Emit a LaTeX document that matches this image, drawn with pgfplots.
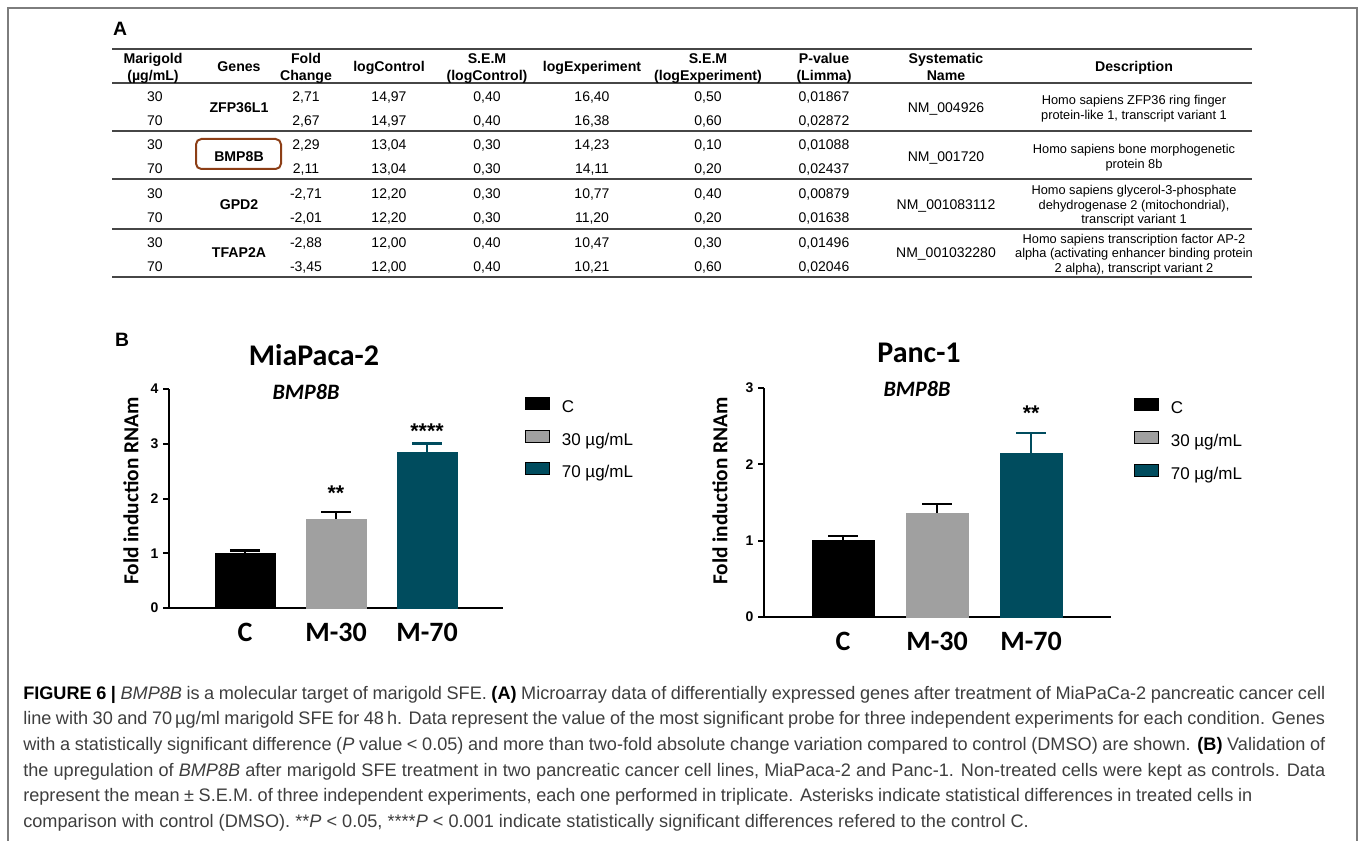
\documentclass[border=0pt]{standalone}
\usepackage{fontspec}
\setmainfont{Liberation Sans}
\newfontfamily\carl{Carlito}
\usepackage{pgfplots}
\pgfplotsset{compat=1.18}
\definecolor{tealC}{RGB}{0,76,94}
\definecolor{grayC}{RGB}{160,160,160}
\definecolor{brownC}{RGB}{140,62,22}
\definecolor{capC}{RGB}{62,62,62}
\definecolor{frameC}{RGB}{125,125,125}
\definecolor{ruleC}{RGB}{70,70,70}
\newcommand{\hfnt}{\fontsize{10.6}{10.6}\selectfont\bfseries}
\newcommand{\vfnt}{\fontsize{10.5}{10.5}\selectfont}
\newcommand{\dfnt}{\fontsize{9.6}{9.6}\selectfont}
\newcommand{\cfnt}{\fontsize{13.6}{13.6}\selectfont\color{capC}}
\newcommand{\hd}[3]{\node[anchor=base,inner sep=0pt,font=\hfnt] at (#1,-#2) {#3};}
\newcommand{\vl}[3]{\node[anchor=base,inner sep=0pt,font=\vfnt] at (#1,-#2) {#3};}
\newcommand{\ds}[3]{\node[anchor=base,inner sep=0pt,font=\dfnt] at (#1,-#2) {#3};}
\newcommand{\trow}[8]{\vl{155}{#1}{#2}\vl{306}{#1}{#3}\vl{389}{#1}{#4}\vl{487}{#1}{#5}\vl{592}{#1}{#6}\vl{708}{#1}{#7}\vl{824}{#1}{#8}}
\newcommand{\capline}[2]{\node[anchor=base west,inner sep=0pt,font=\cfnt] at (23,-#1) {#2};}
\newcommand{\astfont}{\fontsize{16}{16}\selectfont\bfseries}
\pgfplotsset{
  bmpaxis/.style={
    scale only axis, clip=false,
    axis lines*=left, axis line style={line width=2pt, black},
    xtick={0,1,2}, xticklabels={C,M-30,M-70},
    tick align=outside, major tick length=4.5pt,
    x tick style={draw=none},
    y tick style={line width=1.5pt, black},
    /pgf/number format/assume math mode=true,
    y tick label style={font=\fontsize{10.5}{10.5}\selectfont\bfseries},
    x tick label style={font=\carl\bfseries\fontsize{21}{21}\selectfont, anchor=base, yshift=-20.5pt},
    legend image code/.code={\fill[##1] (0pt,0pt) rectangle (18pt,9pt);},
    legend cell align=left,
  },
  bmpbar/.style={ybar, bar width=0.66, bar shift=0pt, fill=#1, draw=#1, line width=0.4pt, forget plot},
}
\begin{document}
\begin{tikzpicture}[x=0.75pt,y=0.75pt]
\path[use as bounding box] (0,0) rectangle (1360,-841);
\draw[frameC, line width=1.1pt] (8,-841) -- (8,-8) -- (1357,-8) -- (1357,-841);
% ---------- Panel A ----------
\node[anchor=base,inner sep=0pt,font=\fontsize{14.5}{14.5}\selectfont\bfseries] at (120,-36) {A};
\draw[ruleC, line width=1pt] (112,-49) -- (1252,-49);
\draw[ruleC, line width=1pt] (112,-83) -- (1252,-83);
\draw[ruleC, line width=1pt] (112,-131) -- (1252,-131);
\draw[ruleC, line width=1pt] (112,-179) -- (1252,-179);
\draw[ruleC, line width=1pt] (112,-229) -- (1252,-229);
\draw[ruleC, line width=1pt] (112,-277) -- (1252,-277);
\hd{153}{64}{Marigold}\hd{153}{81}{(µg/mL)}
\hd{239}{72}{Genes}
\hd{306}{64}{Fold}\hd{306}{81}{Change}
\hd{389}{72}{logControl}
\hd{487}{64}{S.E.M}\hd{487}{81}{(logControl)}
\hd{592}{72}{logExperiment}
\hd{708}{64}{S.E.M}\hd{708}{81}{(logExperiment)}
\hd{824}{64}{P-value}\hd{824}{81}{(Limma)}
\hd{946}{64}{Systematic}\hd{946}{81}{Name}
\hd{1134}{72}{Description}
\trow{102}{30}{2,71}{14,97}{0,40}{16,40}{0,50}{0,01867}
\trow{126}{70}{2,67}{14,97}{0,40}{16,38}{0,60}{0,02872}
\trow{150}{30}{2,29}{13,04}{0,30}{14,23}{0,10}{0,01088}
\trow{174}{70}{2,11}{13,04}{0,30}{14,11}{0,20}{0,02437}
\trow{199}{30}{-2,71}{12,20}{0,30}{10,77}{0,40}{0,00879}
\trow{223}{70}{-2,01}{12,20}{0,30}{11,20}{0,20}{0,01638}
\trow{248}{30}{-2,88}{12,00}{0,40}{10,47}{0,30}{0,01496}
\trow{272}{70}{-3,45}{12,00}{0,40}{10,21}{0,60}{0,02046}
\hd{239}{113}{ZFP36L1}
\hd{239}{162}{BMP8B}
\hd{239}{210}{GPD2}
\hd{239}{258}{TFAP2A}
\draw[brownC, line width=1.5pt, rounded corners=4pt] (196,-139) rectangle (281,-169);
\vl{946}{113}{NM\_004926}
\vl{946}{162}{NM\_001720}
\vl{946}{210}{NM\_001083112}
\vl{946}{258}{NM\_001032280}
\ds{1134}{105}{Homo sapiens ZFP36 ring finger}
\ds{1134}{120}{protein-like 1, transcript variant 1}
\ds{1134}{154}{Homo sapiens bone morphogenetic}
\ds{1134}{169}{protein 8b}
\ds{1134}{195}{Homo sapiens glycerol-3-phosphate}
\ds{1134}{210}{dehydrogenase 2 (mitochondrial),}
\ds{1134}{224}{transcript variant 1}
\ds{1134}{244}{Homo sapiens transcription factor AP-2}
\ds{1134}{258}{alpha (activating enhancer binding protein}
\ds{1134}{273}{2 alpha), transcript variant 2}
% ---------- Panel B ----------
\node[anchor=base,inner sep=0pt,font=\fontsize{14.5}{14.5}\selectfont\bfseries] at (122,-347) {B};
\node[anchor=base,inner sep=0pt,font=\carl\bfseries\fontsize{22.5}{22.5}\selectfont] at (314,-366) {MiaPaca-2};
\node[anchor=base,inner sep=0pt,font=\carl\bfseries\itshape\fontsize{16.5}{16.5}\selectfont] at (306,-400) {BMP8B};
\node[rotate=90,inner sep=0pt,font=\carl\bfseries\fontsize{16}{16}\selectfont] at (131,-491) {Fold induction RNAm};
\node[anchor=base,inner sep=0pt,font=\carl\bfseries\fontsize{22.5}{22.5}\selectfont] at (919,-363) {Panc-1};
\node[anchor=base,inner sep=0pt,font=\carl\bfseries\itshape\fontsize{16.5}{16.5}\selectfont] at (917,-397) {BMP8B};
\node[rotate=90,inner sep=0pt,font=\carl\bfseries\fontsize{16}{16}\selectfont] at (720,-491) {Fold induction RNAm};
\begin{axis}[bmpaxis,
  at={(126.75pt,-456pt)}, anchor=south west, width=250.5pt, height=164.25pt,
  xmin=-0.835, xmax=2.835, ymin=0, ymax=4, ytick={0,1,2,3,4},
  legend style={at={(1.066,0.9635)}, anchor=north west, draw=none, fill=none, inner sep=0pt,
    font=\fontsize{12.75}{12.75}\selectfont, row sep=10pt, column sep=9pt,
    nodes={inner sep=0pt, text height=0.75em, text depth=0.25em}},
]
\addplot[bmpbar=black, error bars/.cd, y dir=plus, y explicit,
  error bar style={line width=2pt, black}, error mark options={rotate=90, line width=2pt, black, mark size=11.25pt}]
  coordinates {(0,1.00) +- (0,0.05)};
\addplot[bmpbar=grayC, error bars/.cd, y dir=plus, y explicit,
  error bar style={line width=2pt, black}, error mark options={rotate=90, line width=2pt, black, mark size=11.25pt}]
  coordinates {(1,1.625) +- (0,0.13)};
\addplot[bmpbar=tealC, error bars/.cd, y dir=plus, y explicit,
  error bar style={line width=2pt, tealC}, error mark options={rotate=90, line width=2pt, tealC, mark size=11.25pt}]
  coordinates {(2,2.84) +- (0,0.17)};
\addlegendimage{fill=black}\addlegendentry{C}
\addlegendimage{fill=grayC}\addlegendentry{30 µg/mL}
\addlegendimage{fill=tealC}\addlegendentry{70 µg/mL}
\node[anchor=base,inner sep=0pt,font=\astfont] at (axis cs:1,1.97) {**};
\node[anchor=base,inner sep=0pt,font=\astfont] at (axis cs:2,3.09) {****};
\end{axis}
\begin{axis}[bmpaxis,
  at={(573pt,-462.75pt)}, anchor=south west, width=260.25pt, height=171.75pt,
  xmin=-0.84, xmax=2.85, ymin=0, ymax=3, ytick={0,1,2,3},
  legend style={at={(1.0663,0.956)}, anchor=north west, draw=none, fill=none, inner sep=0pt,
    font=\fontsize{12.75}{12.75}\selectfont, row sep=10.5pt, column sep=9pt,
    nodes={inner sep=0pt, text height=0.75em, text depth=0.25em}},
]
\addplot[bmpbar=black, error bars/.cd, y dir=plus, y explicit,
  error bar style={line width=2pt, black}, error mark options={rotate=90, line width=2pt, black, mark size=11.25pt}]
  coordinates {(0,1.00) +- (0,0.06)};
\addplot[bmpbar=grayC, error bars/.cd, y dir=plus, y explicit,
  error bar style={line width=2pt, black}, error mark options={rotate=90, line width=2pt, black, mark size=11.25pt}]
  coordinates {(1,1.36) +- (0,0.12)};
\addplot[bmpbar=tealC, error bars/.cd, y dir=plus, y explicit,
  error bar style={line width=2pt, tealC}, error mark options={rotate=90, line width=2pt, tealC, mark size=11.25pt}]
  coordinates {(2,2.14) +- (0,0.27)};
\addlegendimage{fill=black}\addlegendentry{C}
\addlegendimage{fill=grayC}\addlegendentry{30 µg/mL}
\addlegendimage{fill=tealC}\addlegendentry{70 µg/mL}
\node[anchor=base,inner sep=0pt,font=\astfont] at (axis cs:2,2.58) {**};
\end{axis}
% ---------- Caption ----------
\capline{699}{\makebox[976.5pt][s]{\textcolor{black}{\textbf{FIGURE 6 |}} \textit{BMP8B} is a molecular target of marigold SFE. \textcolor{black}{\textbf{(A)}} Microarray data of differentially expressed genes after treatment of MiaPaCa-2 pancreatic cancer cell}}
\capline{724.7}{\makebox[976.5pt][s]{line with 30 and 70\,µg/ml marigold SFE for 48\,h. Data represent the value of the most significant probe for three independent experiments for each condition. Genes}}
\capline{750.4}{\makebox[976.5pt][s]{with a statistically significant difference (\textit{P} value < 0.05) and more than two-fold absolute change variation compared to control (DMSO) are shown. \textcolor{black}{\textbf{(B)}} Validation of}}
\capline{776.1}{\makebox[976.5pt][s]{the upregulation of \textit{BMP8B} after marigold SFE treatment in two pancreatic cancer cell lines, MiaPaca-2 and Panc-1. Non-treated cells were kept as controls. Data}}
\capline{801.8}{\makebox[921.75pt][s]{represent the mean ± S.E.M. of three independent experiments, each one performed in triplicate. Asterisks indicate statistical differences in treated cells in}}
\capline{827.5}{comparison with control (DMSO). **\textit{P} < 0.05, ****\textit{P} < 0.001 indicate statistically significant differences refered to the control C.}
\end{tikzpicture}
\end{document}
